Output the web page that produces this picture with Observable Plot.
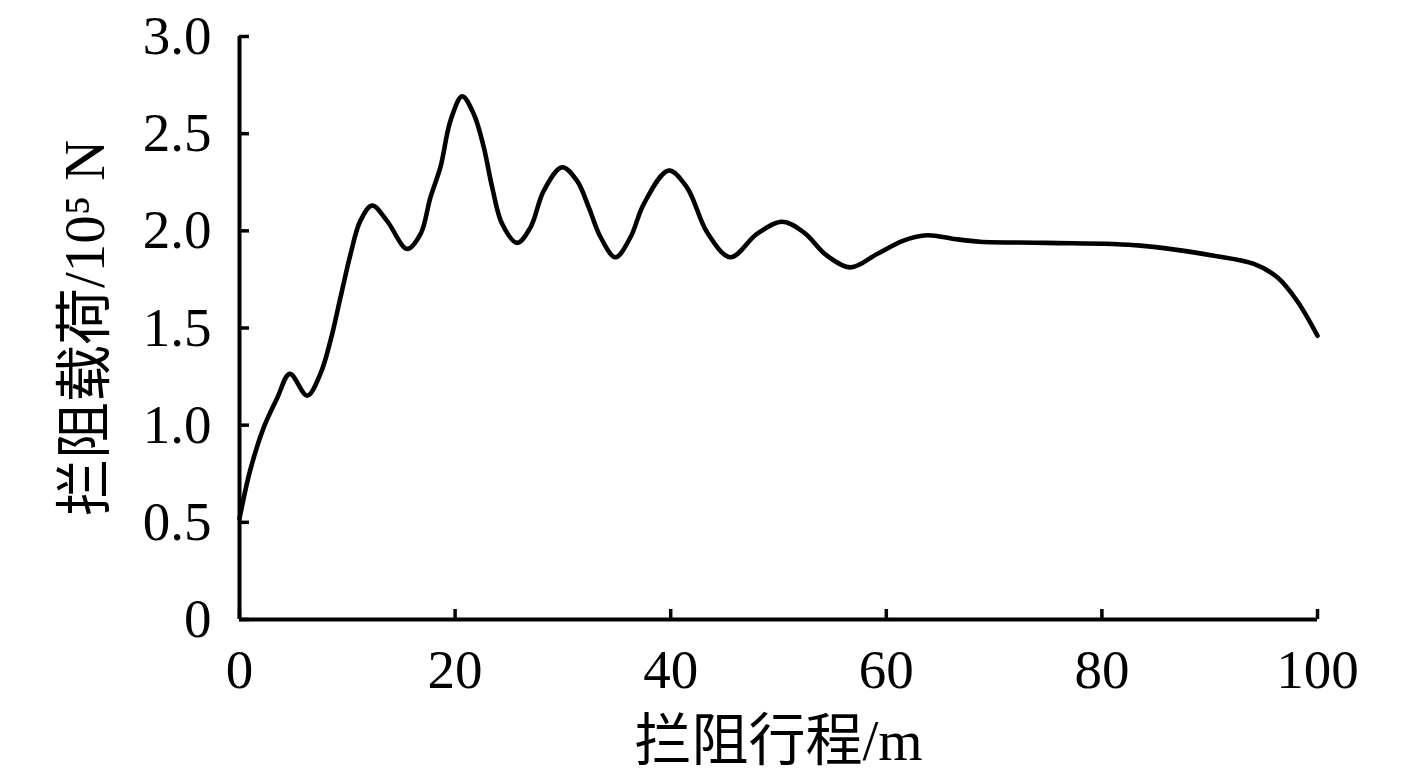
<!DOCTYPE html>
<html><head><meta charset="utf-8">
<script src="https://cdn.jsdelivr.net/npm/d3@7"></script>
<script src="https://cdn.jsdelivr.net/npm/@observablehq/plot@0.6"></script>
<style>body{margin:0;background:#fff}</style>
</head><body><div id="chart"></div>
<script>
// 拦阻行程 (m)
const strokeX = [0, 1.0, 2.26, 3.5, 4.67, 6.28, 7.5, 8.44, 9.37, 10.3, 11.2, 12.3, 13.7, 15.56, 16.8, 17.7, 18.65, 19.57, 20.66, 21.73, 22.66, 23.44, 24.37, 25.76, 27.0, 28.23, 29.93, 31.3, 32.4, 33.5, 34.88, 36.27, 37.5, 39.8, 41.5, 43.4, 45.55, 48.0, 50.34, 52.35, 54.5, 56.7, 59.15, 61.6, 63.8, 66.3, 68.7, 74.9, 83.6, 90.4, 94.1, 96.3, 98.1, 100];
// 拦阻载荷 (10^5 N)
const loadY = [0.52, 0.77, 0.99, 1.14, 1.264, 1.152, 1.264, 1.435, 1.658, 1.88, 2.05, 2.13, 2.05, 1.907, 1.984, 2.17, 2.33, 2.567, 2.692, 2.601, 2.43, 2.224, 2.035, 1.938, 2.018, 2.207, 2.327, 2.258, 2.121, 1.967, 1.864, 1.967, 2.138, 2.31, 2.224, 1.99, 1.864, 1.984, 2.047, 1.992, 1.872, 1.812, 1.881, 1.95, 1.977, 1.958, 1.944, 1.938, 1.924, 1.872, 1.83, 1.76, 1.64, 1.46];
const xTicks = [0, 20, 40, 60, 80, 100];
const yTicks = [0, 0.5, 1.0, 1.5, 2.0, 2.5, 3.0];
const xLabel = "拦阻行程/m";
const yLabel = "拦阻载荷/10⁵ N";

const data = strokeX.map((x, i) => ({x, y: loadY[i]}));
const font = '"Liberation Serif","Times New Roman","Noto Sans CJK SC",serif';

const chart = Plot.plot({
  width: 1417, height: 777,
  marginLeft: 239, marginRight: 100, marginTop: 36, marginBottom: 158,
  style: {fontFamily: font, fontSize: "55px", color: "#000", background: "#fff"},
  x: {domain: [0, 100]},
  y: {domain: [0, 3]},
  marks: [
    Plot.axisX({ticks: xTicks, tickSize: -10, tickPadding: 39, strokeWidth: 3.5, fontSize: 55,
      tickFormat: d => String(d), label: null}),
    Plot.axisX({ticks: [], label: xLabel, labelAnchor: "center", labelOffset: 140, labelArrow: "none", fontSize: 57}),
    Plot.axisY({ticks: yTicks, tickSize: -10, tickPadding: 38, strokeWidth: 3.5, fontSize: 55,
      tickFormat: d => d === 0 ? "0" : d.toFixed(1), label: null}),
    Plot.axisY({ticks: [], label: yLabel, labelAnchor: "center", labelOffset: 176, labelArrow: "none", fontSize: 57}),
    Plot.ruleX([0], {stroke: "#000", strokeWidth: 4}),
    Plot.ruleY([0], {stroke: "#000", strokeWidth: 4}),
    Plot.line(data, {x: "x", y: "y", curve: "catmull-rom", stroke: "#000", strokeWidth: 4.6})
  ]
});
document.getElementById("chart").appendChild(chart);
</script>
</body></html>
